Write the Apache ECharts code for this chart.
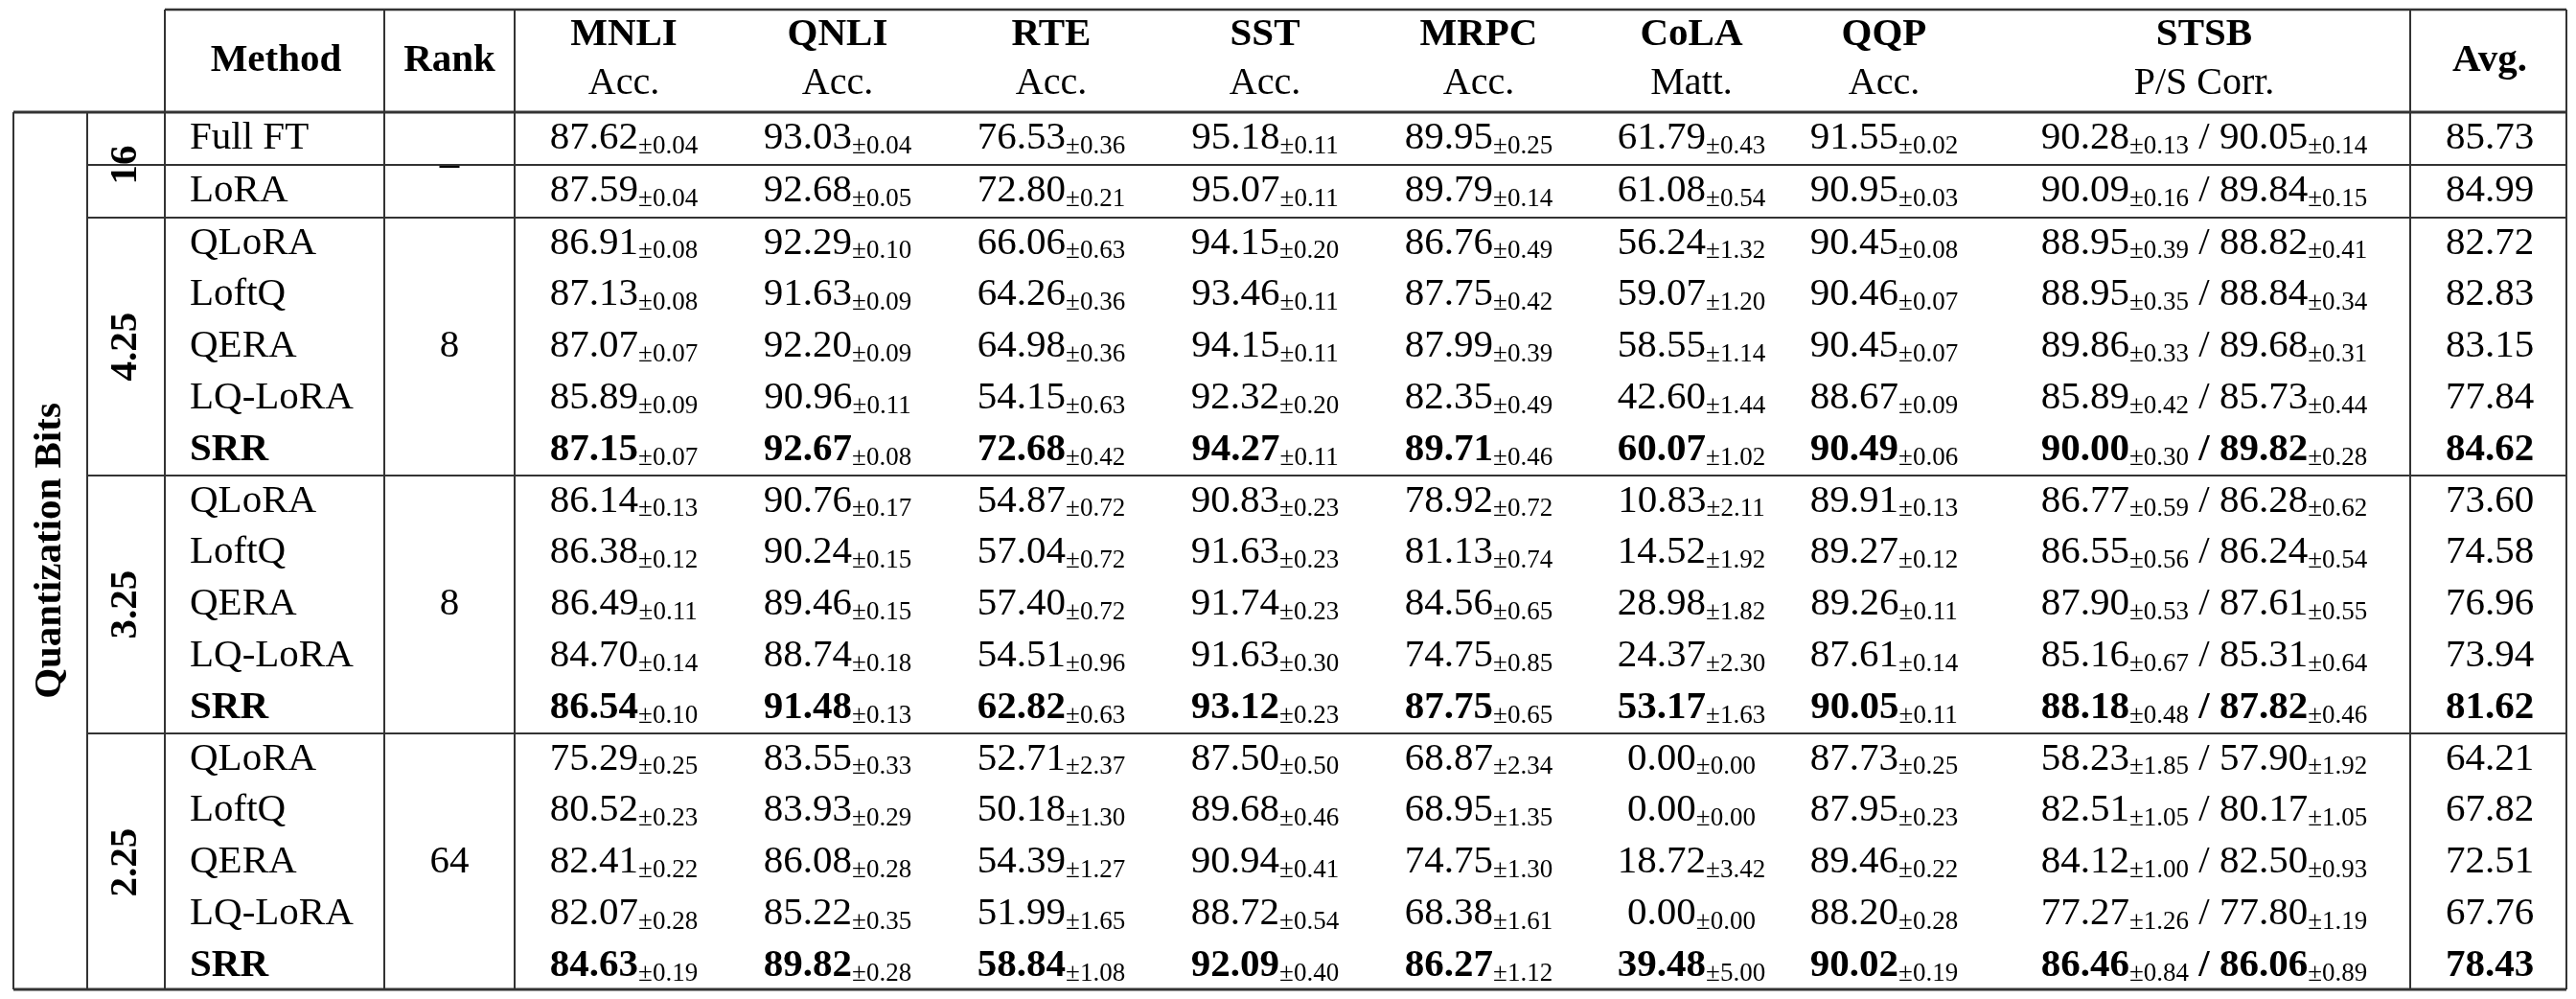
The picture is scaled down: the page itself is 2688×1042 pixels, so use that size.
<!DOCTYPE html>
<html><head><meta charset="utf-8">
<script src="https://cdn.jsdelivr.net/npm/echarts@6/dist/echarts.min.js"></script>
<style>html,body{margin:0;background:#fff}#main{width:2688px;height:1042px}</style>
</head><body><div id="main"></div>
<script>
var tasks = ['MNLI', 'QNLI', 'RTE', 'SST', 'MRPC', 'CoLA', 'QQP', 'STSB'];
var metrics = ['Acc.', 'Acc.', 'Acc.', 'Acc.', 'Acc.', 'Matt.', 'Acc.', 'P/S Corr.'];
var sections = ['16', '4.25', '3.25', '2.25'];
var ranks = ['–', '8', '8', '64'];
var methods = [
  ['Full FT', 'LoRA'],
  ['QLoRA', 'LoftQ', 'QERA', 'LQ-LoRA', 'SRR'],
  ['QLoRA', 'LoftQ', 'QERA', 'LQ-LoRA', 'SRR'],
  ['QLoRA', 'LoftQ', 'QERA', 'LQ-LoRA', 'SRR']
];
// means: MNLI QNLI RTE SST MRPC CoLA QQP STSB-P STSB-S Avg
var means = [
  ['87.62','93.03','76.53','95.18','89.95','61.79','91.55','90.28','90.05','85.73'],
  ['87.59','92.68','72.80','95.07','89.79','61.08','90.95','90.09','89.84','84.99'],
  ['86.91','92.29','66.06','94.15','86.76','56.24','90.45','88.95','88.82','82.72'],
  ['87.13','91.63','64.26','93.46','87.75','59.07','90.46','88.95','88.84','82.83'],
  ['87.07','92.20','64.98','94.15','87.99','58.55','90.45','89.86','89.68','83.15'],
  ['85.89','90.96','54.15','92.32','82.35','42.60','88.67','85.89','85.73','77.84'],
  ['87.15','92.67','72.68','94.27','89.71','60.07','90.49','90.00','89.82','84.62'],
  ['86.14','90.76','54.87','90.83','78.92','10.83','89.91','86.77','86.28','73.60'],
  ['86.38','90.24','57.04','91.63','81.13','14.52','89.27','86.55','86.24','74.58'],
  ['86.49','89.46','57.40','91.74','84.56','28.98','89.26','87.90','87.61','76.96'],
  ['84.70','88.74','54.51','91.63','74.75','24.37','87.61','85.16','85.31','73.94'],
  ['86.54','91.48','62.82','93.12','87.75','53.17','90.05','88.18','87.82','81.62'],
  ['75.29','83.55','52.71','87.50','68.87','0.00','87.73','58.23','57.90','64.21'],
  ['80.52','83.93','50.18','89.68','68.95','0.00','87.95','82.51','80.17','67.82'],
  ['82.41','86.08','54.39','90.94','74.75','18.72','89.46','84.12','82.50','72.51'],
  ['82.07','85.22','51.99','88.72','68.38','0.00','88.20','77.27','77.80','67.76'],
  ['84.63','89.82','58.84','92.09','86.27','39.48','90.02','86.46','86.06','78.43']
];
var stds = [
  ['0.04','0.04','0.36','0.11','0.25','0.43','0.02','0.13','0.14'],
  ['0.04','0.05','0.21','0.11','0.14','0.54','0.03','0.16','0.15'],
  ['0.08','0.10','0.63','0.20','0.49','1.32','0.08','0.39','0.41'],
  ['0.08','0.09','0.36','0.11','0.42','1.20','0.07','0.35','0.34'],
  ['0.07','0.09','0.36','0.11','0.39','1.14','0.07','0.33','0.31'],
  ['0.09','0.11','0.63','0.20','0.49','1.44','0.09','0.42','0.44'],
  ['0.07','0.08','0.42','0.11','0.46','1.02','0.06','0.30','0.28'],
  ['0.13','0.17','0.72','0.23','0.72','2.11','0.13','0.59','0.62'],
  ['0.12','0.15','0.72','0.23','0.74','1.92','0.12','0.56','0.54'],
  ['0.11','0.15','0.72','0.23','0.65','1.82','0.11','0.53','0.55'],
  ['0.14','0.18','0.96','0.30','0.85','2.30','0.14','0.67','0.64'],
  ['0.10','0.13','0.63','0.23','0.65','1.63','0.11','0.48','0.46'],
  ['0.25','0.33','2.37','0.50','2.34','0.00','0.25','1.85','1.92'],
  ['0.23','0.29','1.30','0.46','1.35','0.00','0.23','1.05','1.05'],
  ['0.22','0.28','1.27','0.41','1.30','3.42','0.22','1.00','0.93'],
  ['0.28','0.35','1.65','0.54','1.61','0.00','0.28','1.26','1.19'],
  ['0.19','0.28','1.08','0.40','1.12','5.00','0.19','0.84','0.89']
];

// layout
var colX = [651, 874, 1097, 1320, 1543, 1765, 1966, 2300];
var avgX = 2598, methodX = 198, rankX = 469, bitsX = 131, quantX = 52;
var tableTop = 10, headBot = 117, rowH16 = 55, rowH = 53.8, tableBot = 1032;

var cells = []; // [x, y, text, align, rotate]
function cell(x, y, t, align, rot) { cells.push([x, y, t, align || 'center', rot || 0]); }

tasks.forEach(function (t, i) { cell(colX[i], 62, '{h|' + t + '}\n{m|' + metrics[i] + '}'); });
cell(methodX + 90, 63, '{h|Method}');
cell(rankX, 63, '{h|Rank}');
cell(avgX, 63, '{h|Avg.}');

var sectionLines = [];
var y0 = headBot, r = 0;
sections.forEach(function (s, si) {
  var h = si === 0 ? rowH16 : rowH;
  var n = methods[si].length;
  cell(bitsX, y0 + h * n / 2, '{hb|' + s + '}', 'center', Math.PI / 2);
  cell(rankX, y0 + h * n / 2, '{n|' + ranks[si] + '}');
  methods[si].forEach(function (m, mi) {
    var k = m === 'SRR' ? 'b' : 'n';
    var yc = y0 + h * (mi + 0.5);
    cell(methodX, yc, '{' + k + '|' + m + '}', 'left');
    for (var c = 0; c < 7; c++) {
      cell(colX[c], yc, '{' + k + '|' + means[r][c] + '}{s|±' + stds[r][c] + '}');
    }
    cell(colX[7], yc, '{' + k + '|' + means[r][7] + '}{s|±' + stds[r][7] + '}{' + k + '| / ' + means[r][8] + '}{s|±' + stds[r][8] + '}');
    cell(avgX, yc, '{' + k + '|' + means[r][9] + '}');
    if (si === 0 && mi === 0) sectionLines.push([91, y0 + h, 2678, y0 + h, 2]);
    r++;
  });
  y0 += h * n;
  if (si < sections.length - 1) sectionLines.push([91, y0, 2678, y0, 2]);
});
cell(quantX, (headBot + tableBot) / 2, '{hb|Quantization Bits}', 'center', Math.PI / 2);

var lines = sectionLines.concat([
  [172, tableTop, 2678, tableTop, 2.5], [14, headBot, 2678, headBot, 3], [14, tableBot, 2678, tableBot, 3],
  [14, headBot, 14, tableBot, 2], [91, headBot, 91, tableBot, 2], [172, tableTop, 172, tableBot, 2],
  [401, tableTop, 401, tableBot, 2], [537, tableTop, 537, tableBot, 2], [2515, tableTop, 2515, tableBot, 2],
  [2678, tableTop, 2678, tableBot, 2]
]);

var font = 'Liberation Serif';
var rich = {
  h: { fontFamily: font, fontSize: 41, fontWeight: 'bold', lineHeight: 50 },
  hb: { fontFamily: font, fontSize: 41, fontWeight: 'bold' },
  m: { fontFamily: font, fontSize: 40, lineHeight: 52 },
  n: { fontFamily: font, fontSize: 41, lineHeight: 44 },
  b: { fontFamily: font, fontSize: 41, fontWeight: 'bold', lineHeight: 44 },
  s: { fontFamily: font, fontSize: 27, lineHeight: 44, verticalAlign: 'bottom', padding: [14, 0, 0, 0] }
};

var myChart = echarts.init(document.getElementById('main'));
myChart.setOption({
  animation: false,
  grid: { left: 0, right: 0, top: 0, bottom: 0 },
  xAxis: { type: 'value', min: 0, max: 2688, show: false },
  yAxis: { type: 'value', min: 0, max: 1042, inverse: true, show: false },
  series: [
    {
      type: 'custom', data: lines,
      renderItem: function (params, api) {
        var a = api.coord([api.value(0), api.value(1)]), b = api.coord([api.value(2), api.value(3)]);
        return { type: 'line', shape: { x1: a[0], y1: a[1], x2: b[0], y2: b[1] },
          style: { stroke: '#333', lineWidth: api.value(4) } };
      }
    },
    {
      type: 'custom',
      data: cells.map(function (c) { return [c[0], c[1]]; }),
      renderItem: function (params, api) {
        var d = cells[params.dataIndex];
        var p = api.coord([api.value(0), api.value(1)]);
        return { type: 'text', x: p[0], y: p[1], rotation: d[4],
          style: { text: d[2], rich: rich, align: d[3], verticalAlign: 'middle', fill: '#000' } };
      }
    }
  ]
});
</script></body></html>
